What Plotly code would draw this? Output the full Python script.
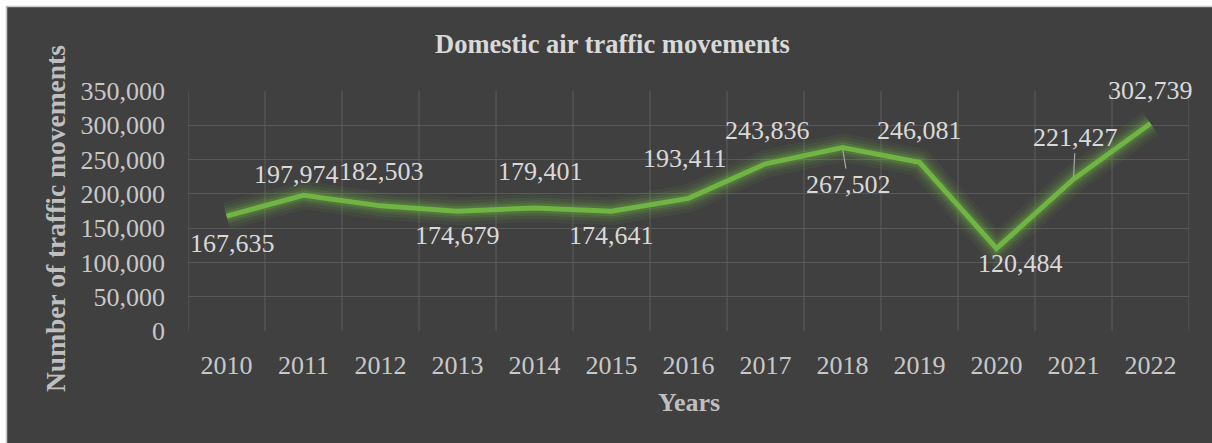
import plotly.graph_objects as go

years = ["2010", "2011", "2012", "2013", "2014", "2015", "2016",
         "2017", "2018", "2019", "2020", "2021", "2022"]
movements = [167635, 197974, 182503, 174679, 179401, 174641, 193411,
             243836, 267502, 246081, 120484, 221427, 302739]
# label offsets in pixels (dx, dy) relative to each point
label_dx = [6, -7, 1, 0, 6, 0, -4, 2, 6, 0, 24, 2, 0]
label_dy = [27, -21, -34, 24, -36, 24, -40, -33, 37, -32, 15, -42, -33]
leader = [False, False, False, False, False, False, False,
          False, True, False, False, True, False]
y_ticks = [0, 50000, 100000, 150000, 200000, 250000, 300000, 350000]

W, H = 1212, 443
L, R, T, B = 188, 23, 91, 112
pw, ph = W - L - R, H - T - B

FONT = "Liberation Serif, Times New Roman, serif"
TXT = "#d9d9d9"
GREEN = "#70b443"

fig = go.Figure()
# glow
for w, a in [(28, 0.07), (21, 0.10), (15, 0.15), (10, 0.22)]:
    fig.add_trace(go.Scatter(x=years, y=movements, mode="lines",
                             line=dict(color=f"rgba(112,180,67,{a})", width=w),
                             hoverinfo="skip", showlegend=False))
fig.add_trace(go.Scatter(x=years, y=movements, mode="lines",
                         line=dict(color=GREEN, width=5),
                         showlegend=False))

ann = []
for i, v in enumerate(movements):
    txt = f"{v:,}"
    if leader[i]:
        ann.append(dict(x=i, y=v, xref="x", yref="y", text=txt,
                        showarrow=True, arrowhead=0, arrowwidth=1.2,
                        arrowcolor="#a6a6a6", ax=label_dx[i], ay=label_dy[i],
                        standoff=2, font=dict(family=FONT, size=26, color=TXT)))
    else:
        ann.append(dict(x=i, y=v, xref="x", yref="y", text=txt,
                        showarrow=False, xshift=label_dx[i], yshift=-label_dy[i],
                        xanchor="center", yanchor="middle",
                        font=dict(family=FONT, size=26, color=TXT)))

def px_x(p):
    return (p - L) / pw

def px_y(p):
    return (H - B - p) / ph

ann.append(dict(x=px_x(612), y=px_y(44), xref="paper", yref="paper",
                xanchor="center", yanchor="middle",
                text="<b>Domestic air traffic movements</b>", showarrow=False,
                font=dict(family=FONT, size=26.5, color=TXT)))
ann.append(dict(x=px_x(689), y=px_y(402), xref="paper", yref="paper",
                xanchor="center", yanchor="middle",
                text="<b>Years</b>", showarrow=False,
                font=dict(family=FONT, size=26, color="#bfbfbf")))
ann.append(dict(x=px_x(55), y=px_y(219), xref="paper", yref="paper",
                xanchor="center", yanchor="middle",
                text="<b>Number of traffic movements</b>", showarrow=False,
                textangle=-90,
                font=dict(family=FONT, size=27.5, color="#bfbfbf")))

shapes = [
    dict(type="rect", xref="paper", yref="paper",
         x0=px_x(-5), x1=px_x(6), y0=px_y(-5), y1=px_y(H + 5),
         fillcolor="white", line=dict(width=0), layer="below"),
    dict(type="rect", xref="paper", yref="paper",
         x0=px_x(-5), x1=px_x(W + 5), y0=px_y(-5), y1=px_y(6),
         fillcolor="white", line=dict(width=0), layer="below"),
    dict(type="line", xref="paper", yref="paper",
         x0=px_x(6.5), x1=px_x(6.5), y0=px_y(6.5), y1=px_y(H + 5),
         line=dict(color="#c8c8c8", width=1.5)),
    dict(type="line", xref="paper", yref="paper",
         x0=px_x(6.5), x1=px_x(W + 5), y0=px_y(6.5), y1=px_y(6.5),
         line=dict(color="#c8c8c8", width=1.5)),
]

fig.update_layout(
    width=W, height=H,
    margin=dict(l=L, r=R, t=T, b=B, pad=0),
    paper_bgcolor="#404040", plot_bgcolor="#404040",
    annotations=ann, shapes=shapes,
    xaxis=dict(type="category", range=[-0.5, 12.5], showgrid=False,
               showline=False, zeroline=False, ticks="",
               tickfont=dict(family=FONT, size=26, color="#c8c8c8"),
               ticklabelstandoff=16, fixedrange=True),
    yaxis=dict(range=[0, 350000], tickvals=y_ticks,
               ticktext=[f"{t:,}" for t in y_ticks],
               showgrid=True, gridcolor="#595959", gridwidth=1.2,
               zeroline=False, showline=False, ticks="",
               tickfont=dict(family=FONT, size=26, color="#c8c8c8"),
               ticklabelstandoff=22, fixedrange=True),
    font=dict(family=FONT),
)
# vertical category gridlines at boundaries
for k in range(14):
    fig.add_shape(type="line", xref="x", yref="paper",
                  x0=k - 0.5, x1=k - 0.5, y0=0, y1=1,
                  line=dict(color="#595959", width=1.2), layer="below")

fig.write_html("out.html")
